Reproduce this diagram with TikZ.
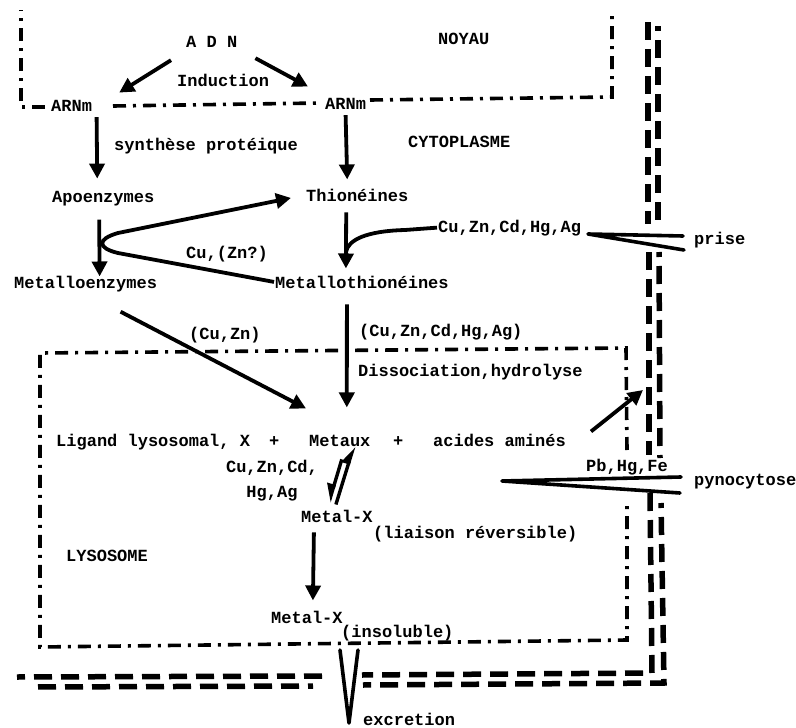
\documentclass[tikz,border=0pt]{standalone}
\usepackage{fontspec}
\setmonofont{Liberation Mono}
\usetikzlibrary{arrows.meta}

\begin{document}
\begin{tikzpicture}[x=1pt,y=-1pt,
  lbl/.style={font=\ttfamily\bfseries\fontsize{17}{25}\selectfont, inner sep=1pt, anchor=base west},
  arr/.style={line width=3.8pt, -{Triangle[length=15pt,width=15pt]}},
  harp/.style={line width=3.4pt},
  nucl/.style={line width=3.6pt, dash pattern=on 13pt off 7pt on 3pt off 7pt},
  memb/.style={line width=5.5pt, dash pattern=on 18pt off 9pt},
  wedge/.style={line width=3.6pt, line join=round, line cap=round}]
\useasboundingbox (0,0) rectangle (796,728);

% nucleus
\node[lbl] (adn) at (185,47) {A D N};
\node[lbl] (noyau) at (437,45) {NOYAU};
\node[lbl] (induc) at (176,86) {Induction};
\node[lbl] (arnl) at (50,111) {ARNm};
\node[lbl] (arnr) at (324,109) {ARNm};
\draw[nucl] (45,107) -- (21,107) -- (21,10);
\draw[nucl] (113,106) -- (320,103);
\draw[nucl] (370,100) -- (612,97) -- (612,10);

% cytoplasm
\node[lbl] (synth) at (113,150) {synthèse protéique};
\node[lbl] (cyto) at (407,147) {CYTOPLASME};
\node[lbl] (apo) at (51,202) {Apoenzymes};
\node[lbl] (thio) at (305,201) {Thionéines};
\node[lbl] (cuzn1) at (185,258) {Cu,(Zn?)};
\node[lbl] (menz) at (13,288) {Metalloenzymes};
\node[lbl] (mthio) at (274,288) {Metallothionéines};
\node[lbl] (metin) at (437,232) {Cu,Zn,Cd,Hg,Ag};
\node[lbl] (prise) at (693,244) {prise};
\node[lbl] (cuzn2) at (188,339) {(Cu,Zn)};
\node[lbl] (metall) at (358,336) {(Cu,Zn,Cd,Hg,Ag)};

% lysosome
\node[lbl] (dissoc) at (357,376) {Dissociation,hydrolyse};
\node[lbl] (ligand) at (55,446) {Ligand lysosomal, X};
\node[lbl] (plus1) at (268,446) {+};
\node[lbl] (metaux) at (308,446) {Metaux};
\node[lbl] (plus2) at (392,446) {+};
\node[lbl] (acides) at (432,446) {acides aminés};
\node[lbl, anchor=north, align=center] (metlist) at (272,459) {Cu,Zn,Cd,\\Hg,Ag};
\node[lbl] (pbhgfe) at (585,471) {Pb,Hg,Fe};
\node[lbl] (pyno) at (693,485) {pynocytose};
\node[lbl] (mx1) at (300,522) {Metal-X};
\node[lbl] (liaison) at (372,538) {(liaison réversible)};
\node[lbl] (lyso) at (65,561) {LYSOSOME};
\node[lbl] (mx2) at (270,623) {Metal-X};
\node[lbl] (insol) at (340,637) {(insoluble)};
\node[lbl] (excr) at (362,725) {excretion};
\draw[nucl] (627,450) -- (626,348) -- (40,353) -- (40,647) -- (627,640) -- (627,505);

% cell membrane
\draw[memb] (648,22) -- (648,224);
\draw[memb] (649,252) -- (649,455);
\draw[memb] (650,493) -- (652,673) -- (362,675);
\draw[memb] (322,676) -- (17,677);
\draw[memb, dash phase=13pt] (658,26) -- (658,224);
\draw[memb, dash phase=13pt] (659,252) -- (660,458);
\draw[memb, dash phase=13pt] (661,503) -- (664,683) -- (363,685);
\draw[memb, dash phase=13pt] (313,686) -- (35,687);

% arrows
\draw[arr] ([xshift=-14pt,yshift=-12pt]adn.south west) -- ([xshift=26pt,yshift=6pt]arnl.north east);
\draw[arr] ([xshift=17pt,yshift=-10pt]adn.south east) -- ([xshift=-16pt,yshift=10pt]arnr.north west);
\draw[arr] ([xshift=25pt,yshift=-5pt]arnl.south) -- ([xshift=-6pt,yshift=11pt]apo.north);
\draw[arr] ([yshift=-5pt]arnr.south) -- ([xshift=-10pt,yshift=8pt]thio.north);
\draw[arr] ([xshift=-4pt,yshift=-13pt]apo.south) -- ([xshift=14pt,yshift=-2pt]menz.north);
\draw[arr] ([xshift=-11pt,yshift=-10pt]thio.south) -- ([xshift=-16pt,yshift=6pt]mthio.north);
\draw[arr] (mthio.west) -- (118,253) .. controls (97,248) and (97,239) .. (118,233) -- ([xshift=-14pt,yshift=-3pt]thio.west);
\draw[line width=3.8pt] (metin.west) -- (405,230) .. controls (366,231) and (348,240) .. (346,252);
\draw[arr] ([xshift=35pt,yshift=-19pt]menz.south) -- ([xshift=-2pt,yshift=25pt]metaux.north west);
\draw[arr] ([xshift=-15pt,yshift=-15pt]mthio.south) -- ([xshift=7pt,yshift=26pt]metaux.north);
\coordinate (mbin) at (643,390);
\draw[arr] ([xshift=24pt,yshift=1pt]acides.north east) -- (mbin);
\draw[harp, -{Triangle[harpoon,swap,length=15pt,width=14pt]}] ([xshift=2pt,yshift=-12pt]metaux.south) -- ([xshift=-8pt,yshift=6pt]mx1.north);
\draw[harp, -{Triangle[harpoon,length=15pt,width=14pt]}] ([xshift=-1pt,yshift=4pt]mx1.north) -- ([xshift=14pt,yshift=1pt]metaux.south);
\draw[arr] ([xshift=-23pt,yshift=-9pt]mx1.south) -- ([xshift=6pt,yshift=9pt]mx2.north);

% uptake and excretion funnels
\coordinate (ptip) at (588,234);
\coordinate (pup) at (683,236);
\coordinate (plo) at (684,250);
\draw[wedge] (pup) -- (ptip) -- (plo);
\coordinate (ytip) at (502,481);
\coordinate (yup) at (681,477);
\coordinate (ylo) at (680,493);
\draw[wedge] (yup) -- (ytip) -- (ylo);
\coordinate (etip) at (349,723);
\draw[wedge] (340,650) -- (etip) -- (358,650);
\end{tikzpicture}
\end{document}
